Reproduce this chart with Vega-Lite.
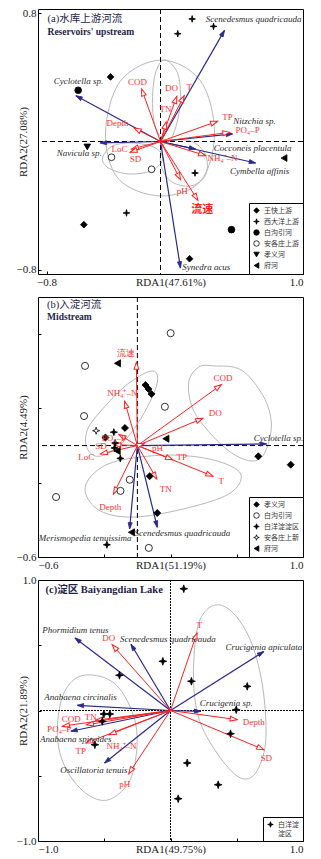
{
"$schema": "https://vega.github.io/schema/vega-lite/v6.json",
"padding": {"left": 15, "top": 6, "right": 2, "bottom": 2},
"background": "white",
"spacing": 23,
"bounds": "flush",
"datasets": {
"a_env": [
{"v":"COD","x":-0.133,"y":0.327,"lx":-0.161,"ly":0.370},
{"v":"DO","x":0.114,"y":0.281,"lx":0.077,"ly":0.335},
{"v":"T","x":0.166,"y":0.285,"lx":0.201,"ly":0.337},
{"v":"TN","x":0.04,"y":0.121,"lx":0.035,"ly":0.202},
{"v":"TP","x":0.40,"y":0.126,"lx":0.47,"ly":0.151},
{"v":"PO₄–P","x":0.486,"y":0.057,"lx":0.611,"ly":0.07},
{"v":"Depth","x":-0.185,"y":0.084,"lx":-0.302,"ly":0.115},
{"v":"LoC","x":-0.204,"y":-0.047,"lx":-0.288,"ly":-0.045},
{"v":"SD","x":-0.213,"y":-0.067,"lx":-0.175,"ly":-0.109},
{"v":"NH₄⁺–N","x":0.316,"y":-0.088,"lx":0.435,"ly":-0.103},
{"v":"pH","x":0.14,"y":-0.238,"lx":0.152,"ly":-0.306},
{"v":"流速","x":0.262,"y":-0.366,"lx":0.293,"ly":-0.425}
],
"a_sp": [
{"s":"Scenedesmus quadricauda","x":0.449,"y":0.692,"lx":0.653,"ly":0.765},
{"s":"Cyclotella sp.","x":-0.594,"y":0.285,"lx":-0.575,"ly":0.377},
{"s":"Nitzchia sp.","x":0.505,"y":0.047,"lx":0.66,"ly":0.13},
{"s":"Navicula sp.","x":-0.423,"y":-0.009,"lx":-0.571,"ly":-0.072},
{"s":"Cocconeis placentula","x":0.246,"y":-0.047,"lx":0.646,"ly":-0.04},
{"s":"Cymbella affinis","x":0.667,"y":-0.134,"lx":0.695,"ly":-0.184},
{"s":"Synedra acus","x":0.14,"y":-0.788,"lx":0.321,"ly":-0.781}
],
"a_pts": [
{"site":"西大洋上游","x":0.222,"y":0.763},
{"site":"西大洋上游","x":0.372,"y":0.717},
{"site":"西大洋上游","x":0.121,"y":0.671},
{"site":"王快上游","x":-0.351,"y":0.402},
{"site":"白沟引河","x":-0.578,"y":0.319},
{"site":"孝义河","x":-0.514,"y":-0.034},
{"site":"府河","x":0.867,"y":-0.103},
{"site":"安各庄上游","x":-0.344,"y":-0.098},
{"site":"安各庄上游","x":-0.063,"y":-0.173},
{"site":"西大洋上游","x":0.242,"y":-0.196},
{"site":"西大洋上游","x":-0.239,"y":-0.445},
{"site":"王快上游","x":-0.538,"y":-0.518},
{"site":"白沟引河","x":0.498,"y":-0.549},
{"site":"王快上游","x":0.204,"y":-0.730}
],
"a_ell": [
{"e":1,"i":1,"x":0.007,"y":0.507},{"e":1,"i":2,"x":0.281,"y":0.377},{"e":1,"i":3,"x":0.379,"y":0.053},{"e":1,"i":4,"x":0.281,"y":-0.246},{"e":1,"i":5,"x":0.0,"y":-0.339},{"e":1,"i":6,"x":-0.295,"y":-0.233},{"e":1,"i":7,"x":-0.386,"y":0.053},{"e":1,"i":8,"x":-0.281,"y":0.377},
{"e":2,"i":1,"x":0.028,"y":0.508},{"e":2,"i":2,"x":0.119,"y":0.427},{"e":2,"i":3,"x":0.14,"y":0.258},{"e":2,"i":4,"x":0.105,"y":0.084},{"e":2,"i":5,"x":0.049,"y":0.003},{"e":2,"i":6,"x":-0.035,"y":0.084},{"e":2,"i":7,"x":-0.056,"y":0.258},{"e":2,"i":8,"x":-0.035,"y":0.427},
{"e":3,"i":1,"x":0.035,"y":-0.009},{"e":3,"i":2,"x":0.211,"y":0.003},{"e":3,"i":3,"x":0.316,"y":-0.084},{"e":3,"i":4,"x":0.316,"y":-0.209},{"e":3,"i":5,"x":0.211,"y":-0.277},{"e":3,"i":6,"x":0.07,"y":-0.246},{"e":3,"i":7,"x":0.0,"y":-0.134},
{"e":4,"i":1,"x":-0.407,"y":-0.103},{"e":4,"i":2,"x":-0.337,"y":-0.028},{"e":4,"i":3,"x":-0.196,"y":-0.009},{"e":4,"i":4,"x":-0.035,"y":-0.04},{"e":4,"i":5,"x":0.014,"y":-0.115},{"e":4,"i":6,"x":-0.07,"y":-0.184},{"e":4,"i":7,"x":-0.225,"y":-0.202},{"e":4,"i":8,"x":-0.365,"y":-0.165}
],
"b_env": [
{"v":"流速","x":-0.006,"y":0.449,"lx":-0.071,"ly":0.497},
{"v":"NH₄⁺–N","x":-0.077,"y":0.239,"lx":-0.091,"ly":0.282},
{"v":"COD","x":0.507,"y":0.328,"lx":0.517,"ly":0.362},
{"v":"DO","x":0.395,"y":0.147,"lx":0.47,"ly":0.176},
{"v":"PO₄–P","x":-0.111,"y":0.059,"lx":-0.142,"ly":0.039},
{"v":"SD","x":-0.142,"y":0.005,"lx":-0.219,"ly":-0.004},
{"v":"LoC","x":-0.223,"y":-0.045,"lx":-0.308,"ly":-0.063},
{"v":"pH","x":0.04,"y":0.01,"lx":0.122,"ly":-0.013},
{"v":"TP","x":0.213,"y":-0.076,"lx":0.268,"ly":-0.06},
{"v":"T","x":0.456,"y":-0.165,"lx":0.507,"ly":-0.192},
{"v":"TN","x":0.117,"y":-0.18,"lx":0.172,"ly":-0.234},
{"v":"Depth","x":-0.144,"y":-0.261,"lx":-0.164,"ly":-0.332}
],
"b_sp": [
{"s":"Cyclotella sp.","x":0.78,"y":0.009,"lx":0.852,"ly":0.041},
{"s":"Merismopedia tenuissima","x":-0.047,"y":-0.449,"lx":-0.316,"ly":-0.498},
{"s":"Scenedesmus quadricauda","x":0.12,"y":-0.44,"lx":0.272,"ly":-0.472}
],
"b_pts": [
{"site":"白沟引河","x":0.201,"y":0.605},
{"site":"白沟引河","x":-0.316,"y":0.429},
{"site":"府河","x":-0.12,"y":0.443},
{"site":"孝义河","x":0.049,"y":0.326},
{"site":"孝义河","x":0.067,"y":0.305},
{"site":"孝义河","x":0.085,"y":0.278},
{"site":"白沟引河","x":0.166,"y":0.209},
{"site":"白沟引河","x":-0.322,"y":0.159},
{"site":"安各庄上新","x":-0.249,"y":0.08},
{"site":"孝义河","x":-0.193,"y":0.043},
{"site":"白洋淀淀区","x":-0.142,"y":0.072},
{"site":"孝义河","x":-0.075,"y":0.095},
{"site":"府河","x":0.172,"y":0.037},
{"site":"白洋淀淀区","x":-0.134,"y":0.014},
{"site":"白洋淀淀区","x":-0.138,"y":-0.013},
{"site":"府河","x":-0.122,"y":-0.029},
{"site":"白洋淀淀区","x":-0.103,"y":-0.069},
{"site":"孝义河","x":0.73,"y":-0.058},
{"site":"孝义河","x":0.926,"y":-0.103},
{"site":"孝义河","x":0.074,"y":-0.165},
{"site":"白沟引河","x":-0.046,"y":-0.184},
{"site":"白沟引河","x":-0.102,"y":-0.244},
{"site":"白沟引河","x":-0.491,"y":-0.277},
{"site":"孝义河","x":0.12,"y":-0.363},
{"site":"府河","x":-0.036,"y":-0.467},
{"site":"白洋淀淀区","x":-0.184,"y":-0.534},
{"site":"白沟引河","x":0.069,"y":-0.551}
],
"b_ell": [
{"e":1,"i":1,"x":0.462,"y":0.429},{"e":1,"i":2,"x":0.627,"y":0.407},{"e":1,"i":3,"x":0.76,"y":0.267},{"e":1,"i":4,"x":0.809,"y":0.116},{"e":1,"i":5,"x":0.772,"y":-0.034},{"e":1,"i":6,"x":0.7,"y":-0.083},{"e":1,"i":7,"x":0.578,"y":-0.045},{"e":1,"i":8,"x":0.444,"y":0.062},{"e":1,"i":9,"x":0.335,"y":0.197},{"e":1,"i":10,"x":0.31,"y":0.342},{"e":1,"i":11,"x":0.371,"y":0.423},
{"e":2,"i":1,"x":0.109,"y":0.396},{"e":2,"i":2,"x":0.121,"y":0.342},{"e":2,"i":3,"x":0.079,"y":0.24},{"e":2,"i":4,"x":0.0,"y":0.116},{"e":2,"i":5,"x":-0.079,"y":0.025},{"e":2,"i":6,"x":-0.176,"y":-0.04},{"e":2,"i":7,"x":-0.255,"y":-0.056},{"e":2,"i":8,"x":-0.309,"y":-0.002},{"e":2,"i":9,"x":-0.297,"y":0.095},{"e":2,"i":10,"x":-0.194,"y":0.213},{"e":2,"i":11,"x":-0.073,"y":0.321},{"e":2,"i":12,"x":0.048,"y":0.391},
{"e":3,"i":1,"x":-0.315,"y":-0.25},{"e":3,"i":2,"x":-0.267,"y":-0.153},{"e":3,"i":3,"x":-0.121,"y":-0.083},{"e":3,"i":4,"x":0.182,"y":-0.051},{"e":3,"i":5,"x":0.461,"y":-0.078},{"e":3,"i":6,"x":0.624,"y":-0.153},{"e":3,"i":7,"x":0.552,"y":-0.261},{"e":3,"i":8,"x":0.279,"y":-0.341},{"e":3,"i":9,"x":-0.024,"y":-0.385},{"e":3,"i":10,"x":-0.224,"y":-0.352}
],
"c_env": [
{"v":"T","x":0.2,"y":0.594,"lx":0.219,"ly":0.653},
{"v":"DO","x":-0.44,"y":0.504,"lx":-0.466,"ly":0.556},
{"v":"Depth","x":0.503,"y":-0.07,"lx":0.629,"ly":-0.088},
{"v":"SD","x":0.704,"y":-0.3,"lx":0.722,"ly":-0.364},
{"v":"pH","x":-0.315,"y":-0.484,"lx":-0.345,"ly":-0.563},
{"v":"NH₄⁺–N","x":-0.463,"y":-0.185,"lx":-0.37,"ly":-0.27},
{"v":"TP","x":-0.639,"y":-0.249,"lx":-0.677,"ly":-0.313},
{"v":"TN","x":-0.564,"y":-0.075,"lx":-0.602,"ly":-0.05},
{"v":"COD","x":-0.634,"y":-0.11,"lx":-0.749,"ly":-0.068},
{"v":"PO₄–P","x":-0.815,"y":-0.12,"lx":-0.84,"ly":-0.145}
],
"c_sp": [
{"s":"Phormidium tenus","x":-0.721,"y":0.556,"lx":-0.717,"ly":0.619},
{"s":"Scenedesmus quadricauda","x":-0.298,"y":0.508,"lx":-0.019,"ly":0.548},
{"s":"Crucigenia apiculata","x":0.704,"y":0.452,"lx":0.704,"ly":0.487},
{"s":"Anabaena circinalis","x":-0.704,"y":0.04,"lx":-0.679,"ly":0.101},
{"s":"Crucigenia sp.","x":0.229,"y":-0.006,"lx":0.42,"ly":0.057},
{"s":"Anabaena spiroides","x":-0.752,"y":-0.159,"lx":-0.715,"ly":-0.222},
{"s":"Oscillatoria tenuis","x":-0.498,"y":-0.402,"lx":-0.579,"ly":-0.454}
],
"c_pts": [
{"site":"白洋淀淀区","x":0.1,"y":0.933},
{"site":"白洋淀淀区","x":-0.058,"y":0.377},
{"site":"白洋淀淀区","x":-0.385,"y":0.27},
{"site":"白洋淀淀区","x":0.158,"y":0.224},
{"site":"白洋淀淀区","x":0.579,"y":0.185},
{"site":"白洋淀淀区","x":0.496,"y":0.006},
{"site":"白洋淀淀区","x":-0.503,"y":-0.027},
{"site":"白洋淀淀区","x":-0.458,"y":-0.027},
{"site":"白洋淀淀区","x":-0.515,"y":-0.083},
{"site":"白洋淀淀区","x":0.453,"y":-0.178},
{"site":"白洋淀淀区","x":-0.571,"y":-0.262},
{"site":"白洋淀淀区","x":0.126,"y":-0.402},
{"site":"白洋淀淀区","x":0.36,"y":-0.569},
{"site":"白洋淀淀区","x":0.058,"y":-0.676}
],
"c_ell": [
{"e":1,"i":1,"x":0.377,"y":0.808},{"e":1,"i":2,"x":0.506,"y":0.709},{"e":1,"i":3,"x":0.626,"y":0.479},{"e":1,"i":4,"x":0.702,"y":0.134},{"e":1,"i":5,"x":0.717,"y":-0.249},{"e":1,"i":6,"x":0.642,"y":-0.479},{"e":1,"i":7,"x":0.528,"y":-0.517},{"e":1,"i":8,"x":0.377,"y":-0.364},{"e":1,"i":9,"x":0.226,"y":-0.096},{"e":1,"i":10,"x":0.174,"y":0.211},{"e":1,"i":11,"x":0.196,"y":0.594},{"e":1,"i":12,"x":0.264,"y":0.762},
{"e":2,"i":1,"x":-0.642,"y":0.272},{"e":2,"i":2,"x":-0.475,"y":0.241},{"e":2,"i":3,"x":-0.355,"y":0.126},{"e":2,"i":4,"x":-0.264,"y":-0.096},{"e":2,"i":5,"x":-0.257,"y":-0.326},{"e":2,"i":6,"x":-0.317,"y":-0.556},{"e":2,"i":7,"x":-0.475,"y":-0.686},{"e":2,"i":8,"x":-0.642,"y":-0.632},{"e":2,"i":9,"x":-0.792,"y":-0.441},{"e":2,"i":10,"x":-0.853,"y":-0.211},{"e":2,"i":11,"x":-0.83,"y":0.057},{"e":2,"i":12,"x":-0.755,"y":0.211}
]
},
"vconcat": [
{
"width": 265, "height": 265,
"layer": [
{"data": {"name": "a_ell"}, "mark": {"type": "line", "interpolate": "cardinal-closed", "color": "#b8b8b8", "strokeWidth": 1},
 "encoding": {
  "x": {"field": "x", "type": "quantitative", "scale": {"domain": [-0.86, 1.0], "nice": false, "zero": false}, "axis": {"title": "RDA1(47.61%)", "values": [-0.8, 1.0], "format": ".1f"}},
  "y": {"field": "y", "type": "quantitative", "scale": {"domain": [-0.825, 0.825], "nice": false, "zero": false}, "axis": {"title": "RDA2(27.08%)", "values": [-0.8, 0.8], "format": ".1f"}},
  "detail": {"field": "e", "type": "nominal"}, "order": {"field": "i", "type": "quantitative"}}},
{"data": {"values": [{}]}, "mark": {"type": "rule", "strokeDash": [5, 3], "color": "black", "strokeWidth": 1}, "encoding": {"x": {"datum": 0, "type": "quantitative"}}},
{"data": {"values": [{}]}, "mark": {"type": "rule", "strokeDash": [5, 3], "color": "black", "strokeWidth": 1}, "encoding": {"y": {"datum": 0, "type": "quantitative"}}},
{"data": {"name": "a_sp"}, "mark": {"type": "rule", "color": "#2a2a8f", "strokeWidth": 1.2}, "encoding": {"x": {"field": "x", "type": "quantitative"}, "y": {"field": "y", "type": "quantitative"}, "x2": {"datum": 0}, "y2": {"datum": 0}}},
{"data": {"name": "a_sp"}, "transform": [{"calculate": "atan2(datum.x*142.5, datum.y*160.6)*180/PI", "as": "ang"}], "mark": {"type": "point", "shape": "M0,0L1.1,3.4L-1.1,3.4Z", "size": 14, "filled": true, "fill": "#2a2a8f", "stroke": "#2a2a8f", "strokeWidth": 0.8, "opacity": 1}, "encoding": {"x": {"field": "x", "type": "quantitative"}, "y": {"field": "y", "type": "quantitative"}, "angle": {"field": "ang", "type": "quantitative", "scale": null}}},
{"data": {"name": "a_env"}, "mark": {"type": "rule", "color": "#ff1f1f", "strokeWidth": 1}, "encoding": {"x": {"field": "x", "type": "quantitative"}, "y": {"field": "y", "type": "quantitative"}, "x2": {"datum": 0}, "y2": {"datum": 0}}},
{"data": {"name": "a_env"}, "transform": [{"calculate": "atan2(datum.x*142.5, datum.y*160.6)*180/PI", "as": "ang"}], "mark": {"type": "point", "shape": "M0,0L1.2,3.5L-1.2,3.5Z", "size": 16, "filled": true, "fill": "white", "stroke": "#ff1f1f", "strokeWidth": 1, "opacity": 1}, "encoding": {"x": {"field": "x", "type": "quantitative"}, "y": {"field": "y", "type": "quantitative"}, "angle": {"field": "ang", "type": "quantitative", "scale": null}}},
{"data": {"name": "a_pts"}, "mark": {"type": "point", "filled": true, "strokeWidth": 0.8, "size": 45, "opacity": 1},
 "encoding": {"x": {"field": "x", "type": "quantitative"}, "y": {"field": "y", "type": "quantitative"},
  "shape": {"field": "site", "type": "nominal", "scale": {"domain": ["王快上游", "西大洋上游", "白沟引河", "安各庄上游", "孝义河", "府河"], "range": ["diamond", "M0,-1L0.2,-0.2L1,0L0.2,0.2L0,1L-0.2,0.2L-1,0L-0.2,-0.2Z", "circle", "circle", "triangle-down", "triangle-left"]}, "legend": {"title": null}},
  "fill": {"field": "site", "type": "nominal", "scale": {"domain": ["王快上游", "西大洋上游", "白沟引河", "安各庄上游", "孝义河", "府河"], "range": ["black", "black", "black", "white", "black", "black"]}, "legend": {"title": null}},
  "stroke": {"field": "site", "type": "nominal", "scale": {"domain": ["王快上游", "西大洋上游", "白沟引河", "安各庄上游", "孝义河", "府河"], "range": ["black", "black", "black", "black", "black", "black"]}, "legend": {"title": null}}}},
{"data": {"name": "a_env"}, "transform": [{"filter": "datum.v != '流速'"}], "mark": {"type": "text", "font": "Liberation Serif", "fontSize": 9, "color": "#ff3030"}, "encoding": {"x": {"field": "lx", "type": "quantitative"}, "y": {"field": "ly", "type": "quantitative"}, "text": {"field": "v", "type": "nominal"}}},
{"data": {"name": "a_env"}, "transform": [{"filter": "datum.v == '流速'"}], "mark": {"type": "text", "font": "Noto Sans CJK SC", "fontSize": 11, "fontWeight": "bold", "color": "#ff2020"}, "encoding": {"x": {"field": "lx", "type": "quantitative"}, "y": {"field": "ly", "type": "quantitative"}, "text": {"field": "v", "type": "nominal"}}},
{"data": {"name": "a_sp"}, "mark": {"type": "text", "font": "Liberation Serif", "fontSize": 9, "fontStyle": "italic", "color": "#2b2b2b"}, "encoding": {"x": {"field": "lx", "type": "quantitative"}, "y": {"field": "ly", "type": "quantitative"}, "text": {"field": "s", "type": "nominal"}}},
{"data": {"values": [{}]}, "mark": {"type": "text", "align": "left", "font": "Liberation Serif, Noto Sans CJK SC", "fontSize": 10.5, "color": "#1e2448"}, "encoding": {"x": {"datum": -0.793, "type": "quantitative"}, "y": {"datum": 0.765, "type": "quantitative"}, "text": {"value": "(a)水库上游河流"}}},
{"data": {"values": [{}]}, "mark": {"type": "text", "align": "left", "font": "Liberation Serif", "fontSize": 9.5, "fontWeight": "bold", "color": "#1e2448"}, "encoding": {"x": {"datum": -0.793, "type": "quantitative"}, "y": {"datum": 0.682, "type": "quantitative"}, "text": {"value": "Reservoirs' upstream"}}}
]
},
{
"width": 265, "height": 260,
"layer": [
{"data": {"name": "b_ell"}, "mark": {"type": "line", "interpolate": "cardinal-closed", "color": "#b8b8b8", "strokeWidth": 1},
 "encoding": {
  "x": {"field": "x", "type": "quantitative", "scale": {"domain": [-0.6, 1.0], "nice": false, "zero": false}, "axis": {"title": "RDA1(51.19%)", "values": [-0.6, -0.4, -0.2, 0, 0.2, 0.4, 0.6, 0.8, 1.0], "format": ".1f", "labelExpr": "datum.value == -0.6 || datum.value == 1 ? datum.label : ''"}},
  "y": {"field": "y", "type": "quantitative", "scale": {"domain": [-0.6, 0.8], "nice": false, "zero": false}, "axis": {"title": "RDA2(4.49%)", "values": [-0.6, -0.4, -0.2, 0, 0.2, 0.4, 0.6, 0.8], "format": ".1f", "labelExpr": "datum.value == -0.6 || datum.value == 0.8 ? datum.label : ''"}},
  "detail": {"field": "e", "type": "nominal"}, "order": {"field": "i", "type": "quantitative"}}},
{"data": {"values": [{}]}, "mark": {"type": "rule", "strokeDash": [5, 3], "color": "black", "strokeWidth": 1}, "encoding": {"x": {"datum": 0, "type": "quantitative"}}},
{"data": {"values": [{}]}, "mark": {"type": "rule", "strokeDash": [5, 3], "color": "black", "strokeWidth": 1}, "encoding": {"y": {"datum": 0, "type": "quantitative"}}},
{"data": {"name": "b_sp"}, "mark": {"type": "rule", "color": "#2a2a8f", "strokeWidth": 1.2}, "encoding": {"x": {"field": "x", "type": "quantitative"}, "y": {"field": "y", "type": "quantitative"}, "x2": {"datum": 0}, "y2": {"datum": 0}}},
{"data": {"name": "b_sp"}, "transform": [{"calculate": "atan2(datum.x*165.6, datum.y*185.7)*180/PI", "as": "ang"}], "mark": {"type": "point", "shape": "M0,0L1.1,3.4L-1.1,3.4Z", "size": 14, "filled": true, "fill": "#2a2a8f", "stroke": "#2a2a8f", "strokeWidth": 0.8, "opacity": 1}, "encoding": {"x": {"field": "x", "type": "quantitative"}, "y": {"field": "y", "type": "quantitative"}, "angle": {"field": "ang", "type": "quantitative", "scale": null}}},
{"data": {"name": "b_env"}, "mark": {"type": "rule", "color": "#ff1f1f", "strokeWidth": 1}, "encoding": {"x": {"field": "x", "type": "quantitative"}, "y": {"field": "y", "type": "quantitative"}, "x2": {"datum": 0}, "y2": {"datum": 0}}},
{"data": {"name": "b_env"}, "transform": [{"calculate": "atan2(datum.x*165.6, datum.y*185.7)*180/PI", "as": "ang"}], "mark": {"type": "point", "shape": "M0,0L1.2,3.5L-1.2,3.5Z", "size": 16, "filled": true, "fill": "white", "stroke": "#ff1f1f", "strokeWidth": 1, "opacity": 1}, "encoding": {"x": {"field": "x", "type": "quantitative"}, "y": {"field": "y", "type": "quantitative"}, "angle": {"field": "ang", "type": "quantitative", "scale": null}}},
{"data": {"name": "b_pts"}, "mark": {"type": "point", "filled": true, "strokeWidth": 0.8, "size": 50, "opacity": 1},
 "encoding": {"x": {"field": "x", "type": "quantitative"}, "y": {"field": "y", "type": "quantitative"},
  "shape": {"field": "site", "type": "nominal", "scale": {"domain": ["孝义河", "白沟引河", "白洋淀淀区", "安各庄上新", "府河"], "range": ["diamond", "circle", "M0,-1L0.25,-0.25L1,0L0.25,0.25L0,1L-0.25,0.25L-1,0L-0.25,-0.25Z", "M0,-1L0.25,-0.25L1,0L0.25,0.25L0,1L-0.25,0.25L-1,0L-0.25,-0.25Z", "triangle-left"]}, "legend": {"title": null}},
  "fill": {"field": "site", "type": "nominal", "scale": {"domain": ["孝义河", "白沟引河", "白洋淀淀区", "安各庄上新", "府河"], "range": ["black", "white", "black", "white", "black"]}, "legend": {"title": null}},
  "stroke": {"field": "site", "type": "nominal", "scale": {"domain": ["孝义河", "白沟引河", "白洋淀淀区", "安各庄上新", "府河"], "range": ["black", "black", "black", "black", "black"]}, "legend": {"title": null}}}},
{"data": {"name": "b_env"}, "mark": {"type": "text", "font": "Liberation Serif", "fontSize": 9, "color": "#ff3030"}, "encoding": {"x": {"field": "lx", "type": "quantitative"}, "y": {"field": "ly", "type": "quantitative"}, "text": {"field": "v", "type": "nominal"}}},
{"data": {"name": "b_sp"}, "mark": {"type": "text", "font": "Liberation Serif", "fontSize": 9, "fontStyle": "italic", "color": "#2b2b2b"}, "encoding": {"x": {"field": "lx", "type": "quantitative"}, "y": {"field": "ly", "type": "quantitative"}, "text": {"field": "s", "type": "nominal"}}},
{"data": {"values": [{}]}, "mark": {"type": "text", "align": "left", "font": "Liberation Serif, Noto Sans CJK SC", "fontSize": 10.5, "color": "#1e2448"}, "encoding": {"x": {"datum": -0.545, "type": "quantitative"}, "y": {"datum": 0.759, "type": "quantitative"}, "text": {"value": "(b)入淀河流"}}},
{"data": {"values": [{}]}, "mark": {"type": "text", "align": "left", "font": "Liberation Serif", "fontSize": 9.5, "fontWeight": "bold", "color": "#1e2448"}, "encoding": {"x": {"datum": -0.545, "type": "quantitative"}, "y": {"datum": 0.694, "type": "quantitative"}, "text": {"value": "Midstream"}}}
]
},
{
"width": 265, "height": 261,
"layer": [
{"data": {"name": "c_ell"}, "mark": {"type": "line", "interpolate": "cardinal-closed", "color": "#b8b8b8", "strokeWidth": 1},
 "encoding": {
  "x": {"field": "x", "type": "quantitative", "scale": {"domain": [-1, 1], "nice": false, "zero": false}, "axis": {"title": "RDA1(49.75%)", "values": [-1, -0.5, 0, 0.5, 1], "format": ".1f", "labelExpr": "datum.value == -1 || datum.value == 1 ? datum.label : ''"}},
  "y": {"field": "y", "type": "quantitative", "scale": {"domain": [-1, 1], "nice": false, "zero": false}, "axis": {"title": "RDA2(21.89%)", "values": [-1, -0.5, 0, 0.5, 1], "format": ".1f", "labelExpr": "datum.value == -1 || datum.value == 1 ? datum.label : ''"}},
  "detail": {"field": "e", "type": "nominal"}, "order": {"field": "i", "type": "quantitative"}}},
{"data": {"values": [{}]}, "mark": {"type": "rule", "strokeDash": [2, 1], "color": "black", "strokeWidth": 1}, "encoding": {"x": {"datum": 0, "type": "quantitative"}}},
{"data": {"values": [{}]}, "mark": {"type": "rule", "strokeDash": [2, 1], "color": "black", "strokeWidth": 1}, "encoding": {"y": {"datum": 0, "type": "quantitative"}}},
{"data": {"name": "c_sp"}, "mark": {"type": "rule", "color": "#2a2a8f", "strokeWidth": 1.2}, "encoding": {"x": {"field": "x", "type": "quantitative"}, "y": {"field": "y", "type": "quantitative"}, "x2": {"datum": 0}, "y2": {"datum": 0}}},
{"data": {"name": "c_sp"}, "transform": [{"calculate": "atan2(datum.x*132.5, datum.y*130.5)*180/PI", "as": "ang"}], "mark": {"type": "point", "shape": "M0,0L1.1,3.4L-1.1,3.4Z", "size": 14, "filled": true, "fill": "#2a2a8f", "stroke": "#2a2a8f", "strokeWidth": 0.8, "opacity": 1}, "encoding": {"x": {"field": "x", "type": "quantitative"}, "y": {"field": "y", "type": "quantitative"}, "angle": {"field": "ang", "type": "quantitative", "scale": null}}},
{"data": {"name": "c_env"}, "mark": {"type": "rule", "color": "#ff1f1f", "strokeWidth": 1}, "encoding": {"x": {"field": "x", "type": "quantitative"}, "y": {"field": "y", "type": "quantitative"}, "x2": {"datum": 0}, "y2": {"datum": 0}}},
{"data": {"name": "c_env"}, "transform": [{"calculate": "atan2(datum.x*132.5, datum.y*130.5)*180/PI", "as": "ang"}], "mark": {"type": "point", "shape": "M0,0L1.2,3.5L-1.2,3.5Z", "size": 16, "filled": true, "fill": "white", "stroke": "#ff1f1f", "strokeWidth": 1, "opacity": 1}, "encoding": {"x": {"field": "x", "type": "quantitative"}, "y": {"field": "y", "type": "quantitative"}, "angle": {"field": "ang", "type": "quantitative", "scale": null}}},
{"data": {"name": "c_pts"}, "mark": {"type": "point", "filled": true, "stroke": "black", "strokeWidth": 0.8, "size": 60, "opacity": 1},
 "encoding": {"x": {"field": "x", "type": "quantitative"}, "y": {"field": "y", "type": "quantitative"},
  "shape": {"field": "site", "type": "nominal", "scale": {"domain": ["白洋淀淀区"], "range": ["M0,-1L0.25,-0.25L1,0L0.25,0.25L0,1L-0.25,0.25L-1,0L-0.25,-0.25Z"]}, "legend": {"title": null, "labelExpr": "[slice(datum.label,0,3), slice(datum.label,3)]"}},
  "fill": {"field": "site", "type": "nominal", "scale": {"domain": ["白洋淀淀区"], "range": ["black"]}, "legend": {"title": null, "labelExpr": "[slice(datum.label,0,3), slice(datum.label,3)]"}}}},
{"data": {"name": "c_env"}, "mark": {"type": "text", "font": "Liberation Serif", "fontSize": 9, "color": "#ff3030"}, "encoding": {"x": {"field": "lx", "type": "quantitative"}, "y": {"field": "ly", "type": "quantitative"}, "text": {"field": "v", "type": "nominal"}}},
{"data": {"name": "c_sp"}, "mark": {"type": "text", "font": "Liberation Serif", "fontSize": 9, "fontStyle": "italic", "color": "#2b2b2b"}, "encoding": {"x": {"field": "lx", "type": "quantitative"}, "y": {"field": "ly", "type": "quantitative"}, "text": {"field": "s", "type": "nominal"}}},
{"data": {"values": [{}]}, "mark": {"type": "text", "align": "left", "font": "Liberation Serif, Noto Sans CJK SC", "fontSize": 10.5, "fontWeight": "bold", "color": "#1e2448"}, "encoding": {"x": {"datum": -0.943, "type": "quantitative"}, "y": {"datum": 0.921, "type": "quantitative"}, "text": {"value": "(c)淀区 Baiyangdian Lake"}}}
]
}
],
"resolve": {"scale": {"x": "independent", "y": "independent", "shape": "independent", "fill": "independent", "stroke": "independent"}, "legend": {"shape": "independent", "fill": "independent", "stroke": "independent"}},
"config": {
 "view": {"stroke": "black", "strokeWidth": 1},
 "axis": {"grid": false, "domain": false, "labelFont": "Liberation Serif", "labelFontSize": 11, "labelColor": "#222", "titleFont": "Liberation Serif", "titleFontSize": 11, "titleFontWeight": "normal", "titleColor": "#222", "tickColor": "black", "tickSize": -3, "labelPadding": 5},
 "axisX": {"titleY": 2, "titleBaseline": "top"},
 "axisY": {"titlePadding": -12},
 "legend": {"orient": "bottom-right", "offset": 0, "strokeColor": "black", "fillColor": "white", "padding": 4, "labelFont": "Noto Sans CJK SC", "labelFontSize": 7, "labelColor": "#333", "symbolSize": 30, "rowPadding": 2, "labelOffset": 4, "symbolStrokeWidth": 0.8, "cornerRadius": 0}
}
}
